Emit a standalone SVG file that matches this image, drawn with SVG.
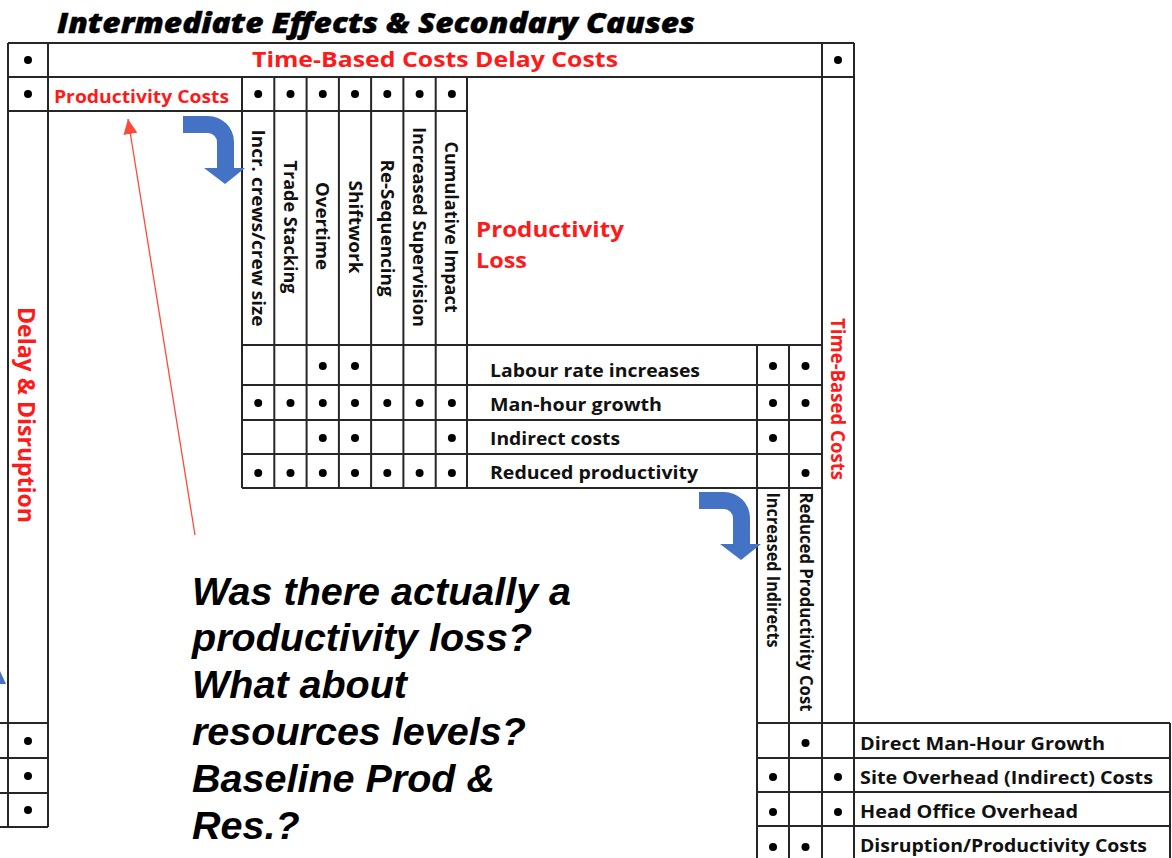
<svg xmlns="http://www.w3.org/2000/svg" width="1172" height="858" viewBox="0 0 1172 858">
  <style>
    .g { stroke: #262626; stroke-width: 2; fill: none; }
    .lbl { font-family: "Open Sans", "Liberation Sans", sans-serif; font-weight: bold; font-size: 18px; fill: #111; }
    .vh { font-family: "Open Sans", "Liberation Sans", sans-serif; font-weight: bold; font-size: 17px; fill: #111; text-anchor: middle; dominant-baseline: central; }
    .red { font-family: "Open Sans", "Liberation Sans", sans-serif; font-weight: bold; fill: #ff1a1a; }
    .dot { fill: #000; }
    .q { font-family: "Liberation Sans", Arial, sans-serif; font-weight: bold; font-style: italic; font-size: 39.5px; fill: #000; }
    .blue { fill: #4472c4; }
  </style>
  <defs>
    <marker id="redHead" markerUnits="userSpaceOnUse" markerWidth="16" markerHeight="14" refX="15" refY="7" orient="auto">
      <path d="M0,0 L15,7 L0,14 Z" fill="#ff4a3a"/>
    </marker>
    <path id="bentArrow" d="M183,116 L208,116 A26,26 0 0 1 234,142 L234,168 L245,168 L225,184 L204,168 L217,168 L217,142 A9,9 0 0 0 208,133 L183,133 Z"/>
  </defs>
  <rect width="1172" height="858" fill="#fff"/>

  <g id="title">
    <text x="57" y="33" font-family="Open Sans, Liberation Sans, sans-serif" font-weight="800" font-style="italic" font-size="29" textLength="638" lengthAdjust="spacingAndGlyphs" fill="#000" stroke="#000" stroke-width="0.4">Intermediate Effects &amp; Secondary Causes</text>
  </g>

  <!-- table rules -->
  <g id="grid" class="g">
    <line x1="8" y1="43" x2="854" y2="43"/>
    <line x1="8" y1="77" x2="854" y2="77"/>
    <line x1="8" y1="111" x2="467" y2="111"/>
    <line x1="8" y1="43" x2="8" y2="827"/>
    <line x1="48" y1="43" x2="48" y2="827"/>
    <line x1="822" y1="43" x2="822" y2="858"/>
    <line x1="854" y1="43" x2="854" y2="858"/>
    <line x1="242" y1="77" x2="242" y2="488"/>
    <line x1="274.3" y1="77" x2="274.3" y2="488"/>
    <line x1="306.6" y1="77" x2="306.6" y2="488"/>
    <line x1="338.9" y1="77" x2="338.9" y2="488"/>
    <line x1="371.1" y1="77" x2="371.1" y2="488"/>
    <line x1="403.4" y1="77" x2="403.4" y2="488"/>
    <line x1="435.7" y1="77" x2="435.7" y2="488"/>
    <line x1="467" y1="77" x2="467" y2="488"/>
    <line x1="242" y1="345" x2="822" y2="345"/>
    <line x1="242" y1="385" x2="822" y2="385"/>
    <line x1="242" y1="420" x2="822" y2="420"/>
    <line x1="242" y1="454" x2="822" y2="454"/>
    <line x1="242" y1="488" x2="822" y2="488"/>
    <line x1="757" y1="345" x2="757" y2="858"/>
    <line x1="789" y1="345" x2="789" y2="858"/>
    <line x1="757" y1="723" x2="1170" y2="723"/>
    <line x1="757" y1="758" x2="1170" y2="758"/>
    <line x1="757" y1="792" x2="1170" y2="792"/>
    <line x1="757" y1="826" x2="1170" y2="826"/>
    <line x1="1170" y1="723" x2="1170" y2="858"/>
    <line x1="0" y1="723" x2="48" y2="723"/>
    <line x1="0" y1="758" x2="48" y2="758"/>
    <line x1="0" y1="793" x2="48" y2="793"/>
    <line x1="0" y1="827" x2="48" y2="827"/>
  </g>

  <g id="headers">
    <text class="red" x="252" y="67" font-size="21" textLength="366" lengthAdjust="spacingAndGlyphs">Time-Based Costs Delay Costs</text>
    <text class="red" x="54" y="103" font-size="17" textLength="175" lengthAdjust="spacingAndGlyphs">Productivity Costs</text>
    <text class="red" x="476" y="237" font-size="22" textLength="148" lengthAdjust="spacingAndGlyphs">Productivity</text>
    <text class="red" x="476" y="268" font-size="22" textLength="51" lengthAdjust="spacingAndGlyphs">Loss</text>
    <text class="red" font-size="24" text-anchor="middle" dominant-baseline="central" transform="translate(27,415) rotate(90)" textLength="216" lengthAdjust="spacingAndGlyphs">Delay &amp; Disruption</text>
    <text class="red" font-size="20" text-anchor="middle" dominant-baseline="central" transform="translate(838,399) rotate(90)" textLength="162" lengthAdjust="spacingAndGlyphs">Time-Based Costs</text>
  </g>

  <g id="cause-columns">
    <text class="vh" transform="translate(258.2,228) rotate(90)" textLength="197" lengthAdjust="spacingAndGlyphs">Incr. crews/crew size</text>
    <text class="vh" transform="translate(290.5,227) rotate(90)" textLength="133" lengthAdjust="spacingAndGlyphs">Trade Stacking</text>
    <text class="vh" transform="translate(322.8,226) rotate(90)" textLength="88" lengthAdjust="spacingAndGlyphs">Overtime</text>
    <text class="vh" transform="translate(355,227) rotate(90)" textLength="93" lengthAdjust="spacingAndGlyphs">Shiftwork</text>
    <text class="vh" transform="translate(387.3,228) rotate(90)" textLength="137" lengthAdjust="spacingAndGlyphs">Re-Sequencing</text>
    <text class="vh" transform="translate(419.6,227) rotate(90)" textLength="200" lengthAdjust="spacingAndGlyphs">Increased Supervision</text>
    <text class="vh" transform="translate(451.9,227) rotate(90)" textLength="171" lengthAdjust="spacingAndGlyphs">Cumulative Impact</text>
    <text class="vh" transform="translate(773,570) rotate(90)" textLength="155" lengthAdjust="spacingAndGlyphs">Increased Indirects</text>
    <text class="vh" transform="translate(806,602) rotate(90)" textLength="219" lengthAdjust="spacingAndGlyphs">Reduced Productivity Cost</text>
  </g>

  <g id="effect-rows">
    <text class="lbl" x="490" y="377" textLength="210" lengthAdjust="spacingAndGlyphs">Labour rate increases</text>
    <text class="lbl" x="490" y="411" textLength="172" lengthAdjust="spacingAndGlyphs">Man-hour growth</text>
    <text class="lbl" x="490" y="445" textLength="130" lengthAdjust="spacingAndGlyphs">Indirect costs</text>
    <text class="lbl" x="490" y="479" textLength="208" lengthAdjust="spacingAndGlyphs">Reduced productivity</text>
  </g>

  <g id="cost-rows">
    <text class="lbl" x="860" y="750" textLength="245" lengthAdjust="spacingAndGlyphs">Direct Man-Hour Growth</text>
    <text class="lbl" x="860" y="784" textLength="293" lengthAdjust="spacingAndGlyphs">Site Overhead (Indirect) Costs</text>
    <text class="lbl" x="860" y="818" textLength="218" lengthAdjust="spacingAndGlyphs">Head Office Overhead</text>
    <text class="lbl" x="860" y="852" textLength="287" lengthAdjust="spacingAndGlyphs">Disruption/Productivity Costs</text>
  </g>

  <g id="marks" class="dot">
    <circle cx="28" cy="60" r="4"/>
    <circle cx="838" cy="60" r="4"/>
    <circle cx="28" cy="94" r="4"/>
    <circle cx="258.2" cy="94" r="4"/>
    <circle cx="290.5" cy="94" r="4"/>
    <circle cx="322.8" cy="94" r="4"/>
    <circle cx="355" cy="94" r="4"/>
    <circle cx="387.3" cy="94" r="4"/>
    <circle cx="419.6" cy="94" r="4"/>
    <circle cx="451.9" cy="94" r="4"/>
    <!-- Labour rate increases -->
    <circle cx="322.8" cy="366" r="4"/>
    <circle cx="355" cy="366" r="4"/>
    <circle cx="773" cy="366" r="4"/>
    <circle cx="805.5" cy="366" r="4"/>
    <!-- Man-hour growth -->
    <circle cx="258.2" cy="403" r="4"/>
    <circle cx="290.5" cy="403" r="4"/>
    <circle cx="322.8" cy="403" r="4"/>
    <circle cx="355" cy="403" r="4"/>
    <circle cx="387.3" cy="403" r="4"/>
    <circle cx="419.6" cy="403" r="4"/>
    <circle cx="451.9" cy="403" r="4"/>
    <circle cx="773" cy="403" r="4"/>
    <circle cx="805.5" cy="403" r="4"/>
    <!-- Indirect costs -->
    <circle cx="322.8" cy="438" r="4"/>
    <circle cx="355" cy="438" r="4"/>
    <circle cx="451.9" cy="438" r="4"/>
    <circle cx="773" cy="438" r="4"/>
    <!-- Reduced productivity -->
    <circle cx="258.2" cy="473" r="4"/>
    <circle cx="290.5" cy="473" r="4"/>
    <circle cx="322.8" cy="473" r="4"/>
    <circle cx="355" cy="473" r="4"/>
    <circle cx="387.3" cy="473" r="4"/>
    <circle cx="419.6" cy="473" r="4"/>
    <circle cx="451.9" cy="473" r="4"/>
    <circle cx="805.5" cy="473" r="4"/>
    <!-- cost rows -->
    <circle cx="805.5" cy="743" r="4"/>
    <circle cx="773" cy="777" r="4"/>
    <circle cx="838" cy="777" r="4"/>
    <circle cx="773" cy="812" r="4"/>
    <circle cx="838" cy="812" r="4"/>
    <circle cx="773" cy="847" r="4"/>
    <circle cx="805.5" cy="847" r="4"/>
    <!-- left rows -->
    <circle cx="28" cy="741" r="4"/>
    <circle cx="28" cy="776" r="4"/>
    <circle cx="28" cy="810" r="4"/>
  </g>

  <g id="connectors">
    <use href="#bentArrow" class="blue"/>
    <use href="#bentArrow" class="blue" transform="translate(516,376)"/>
    <polygon class="blue" points="0,671 6,684 0,684"/>
    <line x1="195" y1="535" x2="128" y2="119" stroke="#ff4a3a" stroke-width="1.3" marker-end="url(#redHead)"/>
  </g>

  <g id="question">
    <text class="q" x="192" y="605">Was there actually a</text>
    <text class="q" x="192" y="651">productivity loss?</text>
    <text class="q" x="192" y="698">What about</text>
    <text class="q" x="192" y="745">resources levels?</text>
    <text class="q" x="192" y="792">Baseline Prod &amp;</text>
    <text class="q" x="192" y="839">Res.?</text>
  </g>
</svg>
